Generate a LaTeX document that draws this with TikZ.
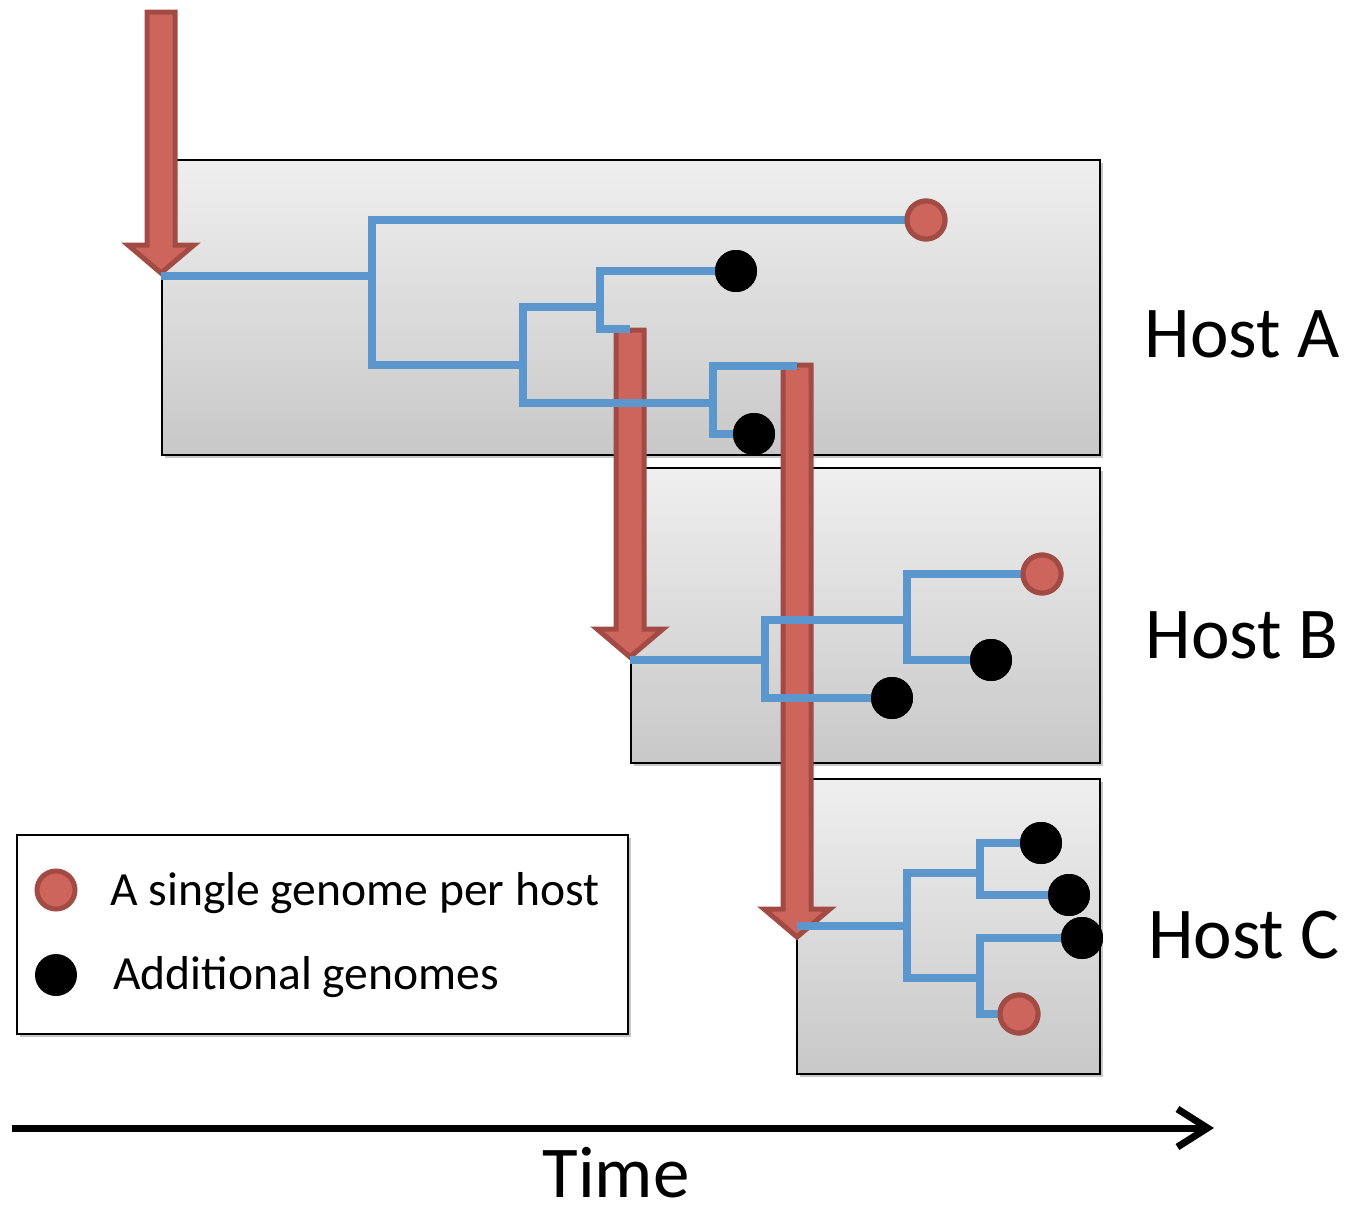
\documentclass[tikz,border=0pt]{standalone}
\usepackage{fontspec}
\setmainfont{Carlito}
\usetikzlibrary{shadows,arrows.meta}
\definecolor{rfill}{HTML}{CD655D}
\definecolor{rborder}{HTML}{A14B44}
\definecolor{tblue}{HTML}{5B96CC}
\definecolor{boxtop}{HTML}{EFEFEF}
\definecolor{boxbot}{HTML}{C8C8C8}
\newcommand\legfont{\fontsize{47.6pt}{56pt}\selectfont}
\newcommand\bigfont{\fontsize{73pt}{85pt}\selectfont}
\newcommand\fatarrow[3]{%
  \draw[fatarw] ({#1-14},#2) -- ({#1+14},#2) -- ({#1+14},{#3-31}) -- ({#1+33},{#3-31})
    -- (#1,{#3-3}) -- ({#1-33},{#3-31}) -- ({#1-14},{#3-31}) -- cycle;}
\tikzset{
  hostbox/.style={draw=black, line width=2pt, top color=boxtop, bottom color=boxbot,
    inner sep=0pt, anchor=north west,
    drop shadow={shadow xshift=3pt, shadow yshift=-3pt, opacity=0.22, fill=black}},
  legbox/.style={draw=black, line width=2pt, fill=white, inner sep=0pt, anchor=north west,
    drop shadow={shadow xshift=3pt, shadow yshift=-3pt, opacity=0.22, fill=black}},
  fatarw/.style={fill=rfill, draw=rborder, line width=5pt, line join=miter},
  tree/.style={draw=tblue, line width=8pt, line join=miter,
    preaction={draw=black, draw opacity=0.15, transform canvas={xshift=2pt, yshift=-3pt}}},
  blackdot/.style={circle, fill=black, minimum size=42pt, inner sep=0pt},
  reddot/.style={circle, fill=rfill, draw=rborder, line width=5pt, minimum size=38pt, inner sep=0pt},
  hostlabel/.style={anchor=base, inner sep=0pt, font=\bigfont},
  legtext/.style={anchor=base west, inner sep=0pt, font=\legfont},
}
\begin{document}
\begin{tikzpicture}[x=1pt, y=-1pt]
\useasboundingbox (0,0) rectangle (1350,1210);
% host boxes
\node[hostbox, minimum width=938pt, minimum height=295pt] (hostA) at (161,159) {};
\node[hostbox, minimum width=469pt, minimum height=295pt] (hostB) at (630,467) {};
\node[hostbox, minimum width=303pt, minimum height=295pt] (hostC) at (796,778) {};
% legend
\node[legbox, minimum width=611pt, minimum height=199pt] (legend) at (16,834) {};
\node[reddot] (lgred) at (56,890) {};
\node[blackdot] (lgblack) at (56,975) {};
\node[legtext] (lgt1) at (110,905) {A single genome per host};
\node[legtext] (lgt2) at (113,989) {Additional genomes};
% labels
\node[hostlabel] (labA) at (1242,357) {Host A};
\node[hostlabel] (labB) at (1242,658) {Host B};
\node[hostlabel] (labC) at (1244,958) {Host C};
% transmission arrows
\fatarrow{161}{12}{276}
\fatarrow{630}{330}{660}
\fatarrow{797}{365}{940}
% coordinates of tree
\coordinate (rootA) at (161,276);
\coordinate (nA1) at (372,276);
\coordinate (nA2) at (523,365);
\coordinate (nA3) at (600,307);
\coordinate (nA4) at (713,403);
\coordinate (a2top) at (630,329);
\coordinate (a3top) at (797,366);
\coordinate (rootB) at (630,660);
\coordinate (nB1) at (765,660);
\coordinate (nB2) at (907,620);
\coordinate (rootC) at (797,926);
\coordinate (nC1) at (907,926);
\coordinate (nC2) at (980,873);
\coordinate (nC3) at (980,978);
% leaves
\node[reddot] (dA1) at (926,220) {};
\node[blackdot] (dA2) at (736,271) {};
\node[blackdot] (dA3) at (754,434) {};
\node[reddot] (dB1) at (1042,574) {};
\node[blackdot] (dB2) at (991,660) {};
\node[blackdot] (dB3) at (892,698) {};
\node[blackdot] (dC1) at (1041,843) {};
\node[blackdot] (dC2) at (1069,895) {};
\node[blackdot] (dC3) at (1082,938) {};
\node[reddot] (dC4) at (1019,1014) {};
% tree branches
\draw[tree] (rootA) -- (nA1);
\draw[tree] (nA1) |- (dA1.center);
\draw[tree] (nA1) |- (nA2);
\draw[tree] (nA2) |- (nA3);
\draw[tree] (nA2) |- (nA4);
\draw[tree] (nA3) |- (dA2.center);
\draw[tree] (nA3) |- (a2top);
\draw[tree] (nA4) |- (a3top);
\draw[tree] (nA4) |- (dA3.center);
\draw[tree] (rootB) -- (nB1);
\draw[tree] (nB1) |- (nB2);
\draw[tree] (nB1) |- (dB3.center);
\draw[tree] (nB2) |- (dB1.center);
\draw[tree] (nB2) |- (dB2.center);
\draw[tree] (rootC) -- (nC1);
\draw[tree] (nC1) |- (nC2);
\draw[tree] (nC1) |- (nC3);
\draw[tree] (nC2) |- (dC1.center);
\draw[tree] (nC2) |- (dC2.center);
\draw[tree] (nC3) |- (dC3.center);
\draw[tree] (nC3) |- (dC4.center);
% redraw dots on top
\node[reddot] at (dA1) {};
\node[blackdot] at (dA2) {};
\node[blackdot] at (dA3) {};
\node[reddot] at (dB1) {};
\node[blackdot] at (dB2) {};
\node[blackdot] at (dB3) {};
\node[blackdot] at (dC1) {};
\node[blackdot] at (dC2) {};
\node[blackdot] at (dC3) {};
\node[reddot] at (dC4) {};
% time axis
\coordinate (t0) at (12,1128);
\coordinate (t1) at (1214,1128);
\draw[line width=7pt, -{Straight Barb[length=30pt,width=38pt]}] (t0) -- (t1);
\node[hostlabel] (time) at (616,1197) {Time};
\end{tikzpicture}
\end{document}
